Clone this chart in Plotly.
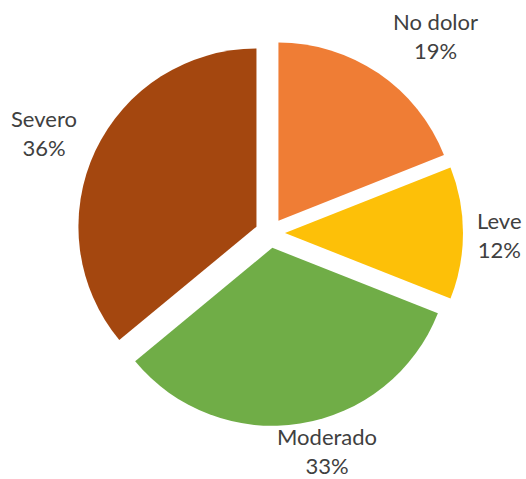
import plotly.graph_objects as go

# Pain intensity categories and their share of respondents (%)
categories = ["No dolor", "Leve", "Moderado", "Severo"]
shares = [19, 12, 33, 36]
slice_colors = ["#EF7D35", "#FDC008", "#70AD47", "#A4470F"]

# Where each category caption sits (pixel centre of the two-line block)
W, H = 526, 479
label_centres = [(435, 36), (499, 235), (327, 451), (44, 133)]

total = sum(shares)

fig = go.Figure(
    go.Pie(
        labels=categories,
        values=shares,
        sort=False,
        direction="clockwise",
        rotation=0,
        pull=0.084,
        marker=dict(colors=slice_colors, line=dict(width=0)),
        textinfo="none",
        showlegend=False,
        hoverinfo="label+percent",
        domain=dict(x=[77 / W, 463 / W], y=[1 - 426 / H, 1 - 40 / H]),
    )
)

for name, value, (px, py) in zip(categories, shares, label_centres):
    fig.add_annotation(
        text=f"{name}<br>{round(100 * value / total)}%",
        x=px / W,
        y=1 - py / H,
        xref="paper",
        yref="paper",
        xanchor="center",
        yanchor="middle",
        align="center",
        showarrow=False,
        borderpad=0,
        font=dict(family="Lato", size=22, color="#404040"),
    )

fig.update_layout(
    width=W,
    height=H,
    margin=dict(l=0, r=0, t=0, b=0),
    paper_bgcolor="white",
    plot_bgcolor="white",
)

fig.write_html("out.html")
